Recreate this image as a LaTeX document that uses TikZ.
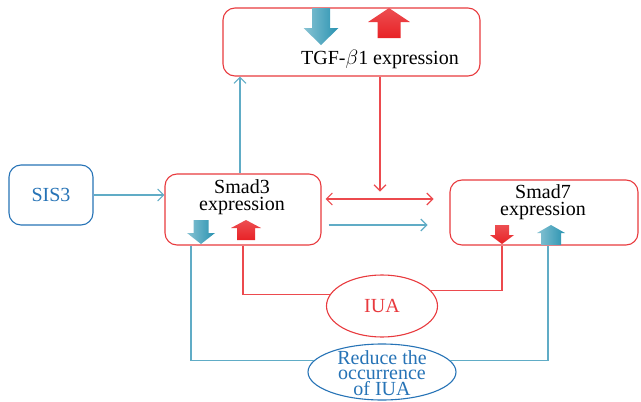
\documentclass[tikz,border=0pt]{standalone}
\usepackage{fontspec}
\setmainfont{Liberation Serif}
\usetikzlibrary{arrows.meta,calc,shapes.geometric}

\definecolor{boxred}{RGB}{232,58,62}
\definecolor{linered}{RGB}{236,74,78}
\definecolor{lineteal}{RGB}{96,172,198}
\definecolor{sisblue}{RGB}{38,115,182}
\definecolor{arrteal}{RGB}{40,146,176}
\definecolor{arrred}{RGB}{232,34,38}

\tikzset{
    redbox/.style={draw=boxred, line width=1.1pt, rounded corners=12pt,
        inner sep=0pt},
    bigtext/.style={font=\fontsize{20}{16.5}\selectfont, align=center,
        inner sep=0pt},
    tealline/.style={draw=lineteal, line width=1.1pt},
    redline/.style={draw=linered, line width=1.1pt},
    barb/.style={-{Straight Barb[length=6pt,width=12pt]}},
    tealblk/.style={left color=arrteal!55!white, right color=arrteal},
    redblk/.style={top color=arrred!80!white, bottom color=arrred}
}

\begin{document}
\begin{tikzpicture}[x=1pt,y=-1pt]

\useasboundingbox (0,0) rectangle (641,402);

% TGF-beta1 box at the top.
\node (tgf) [redbox, minimum width=257pt, minimum height=68pt]
    at (351.5,42) {};
\node (tgftxt) [bigtext] at (380,59) {TGF-$\beta$1 expression};

% Smad3 and Smad7 boxes.
\node (smadthree) [redbox, minimum width=156pt, minimum height=71pt]
    at (243,209.5) {};
\node (smadthreetxt) [bigtext] at (242,197) {Smad3\\expression};
\node (smadseven) [redbox, minimum width=188pt, minimum height=65pt]
    at (544,212.5) {};
\node (smadseventxt) [bigtext] at (543,202) {Smad7\\expression};

% SIS3 box on the left.
\node (sis) [draw=sisblue, line width=1.1pt, rounded corners=12pt,
    minimum width=84pt, minimum height=60pt, bigtext, text=sisblue]
    at (51,195) {SIS3};

% IUA and outcome ellipses.
\node (iua) [ellipse, draw=boxred, line width=1.1pt, inner sep=0pt,
    minimum width=111pt, minimum height=62pt, bigtext, text=boxred]
    at (382,306) {IUA};
\node (reduce) [ellipse, draw=sisblue, line width=1.1pt, inner sep=0pt,
    minimum width=148pt, minimum height=56pt]
    at (382,372) {};
\node (reducetxt) [bigtext, font=\fontsize{20}{15.8}\selectfont,
    text=sisblue] at (382,373) {Reduce the\\occurrence\\of IUA};

% Teal block arrows: x / tail / neck / tip / shaft half / head half.
\foreach \x/\t/\n/\p/\s/\h in {321/8/28/45/9/17.5,
        201/220/233/244/7.5/14, 551/245/233/225/10/14} {
    \path[tealblk]
        ({\x-\s},\t) -- ({\x-\s},\n) -- ({\x-\h},\n) -- (\x,\p)
        -- ({\x+\h},\n) -- ({\x+\s},\n) -- ({\x+\s},\t) -- cycle;
}

% Red block arrows, same order.
\foreach \x/\t/\n/\p/\s/\h in {389/38/22/8/11.5/21,
        246/240/228/220/9/15, 502/225/235/244/7/12} {
    \path[redblk]
        ({\x-\s},\t) -- ({\x-\s},\n) -- ({\x-\h},\n) -- (\x,\p)
        -- ({\x+\h},\n) -- ({\x+\s},\n) -- ({\x+\s},\t) -- cycle;
}

% x positions of the lines below the boxes.
\coordinate (UP3) at (240,0);
\coordinate (BL3) at (191,0);
\coordinate (RD3) at (243,0);
\coordinate (RD7) at (502,0);
\coordinate (BL7) at (548,0);

% SIS3 into Smad3.
\draw[tealline, barb] (sis.east) -- (sis.east -| smadthree.west);

% Smad3 up to TGF-beta1.
\draw[tealline, barb] (smadthree.north -| UP3) -- (tgf.south -| UP3);

% TGF-beta1 down between the Smads.
\draw[redline, barb] (tgf.south -| tgftxt) -- ++(0,115);

% Smad3 and Smad7, both ways.
\draw[redline, {Straight Barb[length=6pt,width=12pt]}-{Straight Barb[length=6pt,width=12pt]}]
    ([xshift=4pt,yshift=10.5pt]smadthree.east) -- ++(108,0);
\draw[tealline, barb]
    ([xshift=7pt,yshift=-15.5pt]smadthree.east) -- ++(99,0);

% Red lines through IUA.
\draw[redline] (smadthree.south -| RD3) |- (iua.168);
\draw[redline] (iua.17) -| (smadseven.south -| RD7);

% Teal lines through the outcome.
\draw[tealline] (smadthree.south -| BL3) |- (reduce.170);
\draw[tealline] (reduce.10) -| (smadseven.south -| BL7);

\end{tikzpicture}
\end{document}
